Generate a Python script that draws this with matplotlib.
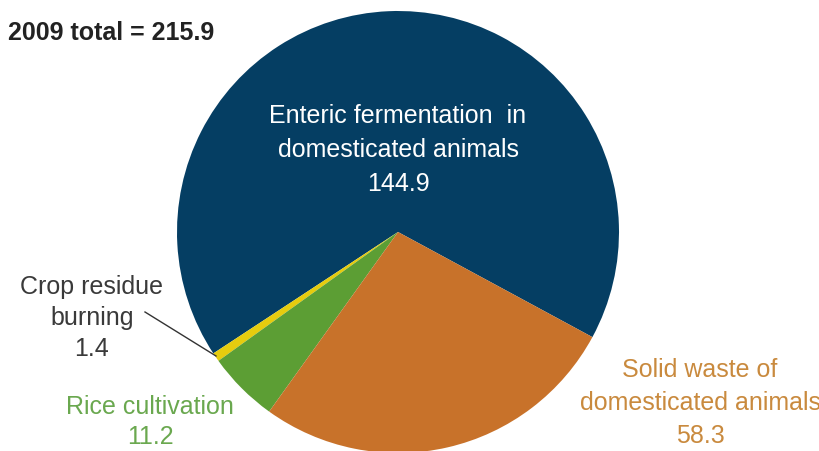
import matplotlib
matplotlib.use('Agg')
from matplotlib import pyplot as plt

plt.rcParams['font.family'] = ['Liberation Sans', 'DejaVu Sans']

# methane emissions by source, 2009
sources = ['Enteric fermentation  in\ndomesticated animals', 'Crop residue\nburning',
           'Rice cultivation', 'Solid waste of\ndomesticated animals']
values = [144.9, 1.4, 11.2, 58.3]
total = 215.9
colors = ['#053e63', '#e6cc0e', '#5c9e34', '#c8722a']
text_colors = ['white', '#3a3a3a', '#6aa84f', '#c98a3e']

# pixel geometry of the reference
W, H = 819, 452
cx, cy, r = 398, 233, 221

fig = plt.figure(figsize=(W / 100, H / 100), dpi=100)
ax = fig.add_axes([0, 0, 1, 1])
ax.pie(values, colors=colors, startangle=-28.4, counterclock=True,
       wedgeprops=dict(linewidth=0))
ax.set_xlim(-cx / r, (W - cx) / r)
ax.set_ylim(-(H - cy) / r, cy / r)
ax.set_aspect('auto')
ax.axis('off')


def px(x, y):
    return (x - cx) / r, (cy - y) / r


# label positions (centre of text block, in reference pixels)
label_pos = [(398, 150), (92, 318), (150, 422), (700, 403)]
spacing = [1.55, 1.35, 1.35, 1.45]
fs = 18
for name, val, pos, tc, ls in zip(sources, values, label_pos, text_colors, spacing):
    ax.text(*px(*pos), f'{name}\n{val}', ha='center', va='center',
            color=tc, fontsize=fs, linespacing=ls)

# leader line for the thin crop residue slice
ax.plot(*zip(px(145, 313), px(216, 357)), color='#333333', lw=1)

fig.text(8 / W, 1 - 33 / H, f'2009 total = {total}', fontsize=18,
         fontweight='bold', color='#222222', va='center', ha='left')

fig.savefig('out.png', dpi=100)
